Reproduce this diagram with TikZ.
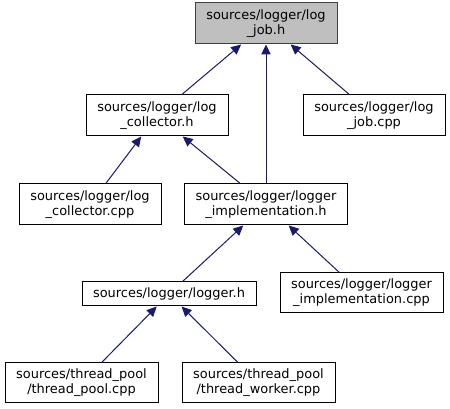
\documentclass[tikz,border=0pt]{standalone}
\usepackage{fontspec}
\usepackage{tikz}
\usetikzlibrary{arrows.meta, positioning}
\newfontfamily\graphfont{DejaVu Sans}
\definecolor{EdgeBlue}{HTML}{191970}
\definecolor{RootFill}{HTML}{BFBFBF}
\definecolor{RootLine}{HTML}{404040}

\begin{document}
\begin{tikzpicture}[x=0.75pt, y=-0.75pt,
    filebox/.style={draw=black, line width=0.75pt, fill=white, align=center, inner sep=0pt,
        font=\graphfont\fontsize{9.7}{11.3}\selectfont, minimum height=30.75pt},
    rootbox/.style={filebox, fill=RootFill, draw=RootLine},
    incl/.style={{Triangle[length=7.5pt, width=7pt]}-, color=EdgeBlue, line width=0.75pt}]
                % 0. Canvas
                \useasboundingbox (0,0) rectangle (450,409);

                % 1. Root header
                \node[rootbox, minimum width=106.5pt] (jobH) at (266, 23.5) {sources/logger/log\\\_job.h};

                % 2. Second row
                \node[filebox, minimum width=106.5pt] (collectorH) at (157, 115.5) {sources/logger/log\\\_collector.h};
                \node[filebox, minimum width=106.5pt] (jobCpp) at (374, 115.5) {sources/logger/log\\\_job.cpp};

                % 3. Third row
                \node[filebox, minimum width=106.5pt] (collectorCpp) at (90, 204.5) {sources/logger/log\\\_collector.cpp};
                \node[filebox, minimum width=122.25pt] (implH) at (266, 204.5) {sources/logger/logger\\\_implementation.h};

                % 4. Fourth row
                \node[filebox, minimum width=130.5pt, minimum height=18pt] (loggerH) at (169, 294) {sources/logger/logger.h};
                \node[filebox, minimum width=122.25pt, minimum height=30pt] (implCpp) at (361.5, 293) {sources/logger/logger\\\_implementation.cpp};

                % 5. Thread pool sources
                \node[filebox, minimum width=114.75pt, minimum height=30pt] (poolCpp) at (81.5, 383) {sources/thread\_pool\\/thread\_pool.cpp};
                \node[filebox, minimum width=114.75pt, minimum height=30pt] (workerCpp) at (258.5, 383) {sources/thread\_pool\\/thread\_worker.cpp};

                % -------------------------------------------------------------
                % INCLUDE EDGES
                % -------------------------------------------------------------
                \draw[incl] (jobH) -- (collectorH);
                \draw[incl] (jobH) -- (implH);
                \draw[incl] (jobH) -- (jobCpp);
                \draw[incl] (collectorH) -- (collectorCpp);
                \draw[incl] (collectorH) -- (implH);
                \draw[incl] (implH) -- (loggerH);
                \draw[incl] (implH) -- (implCpp);
                \draw[incl] (loggerH) -- (poolCpp);
                \draw[incl] (loggerH) -- (workerCpp);
\end{tikzpicture}
\end{document}
